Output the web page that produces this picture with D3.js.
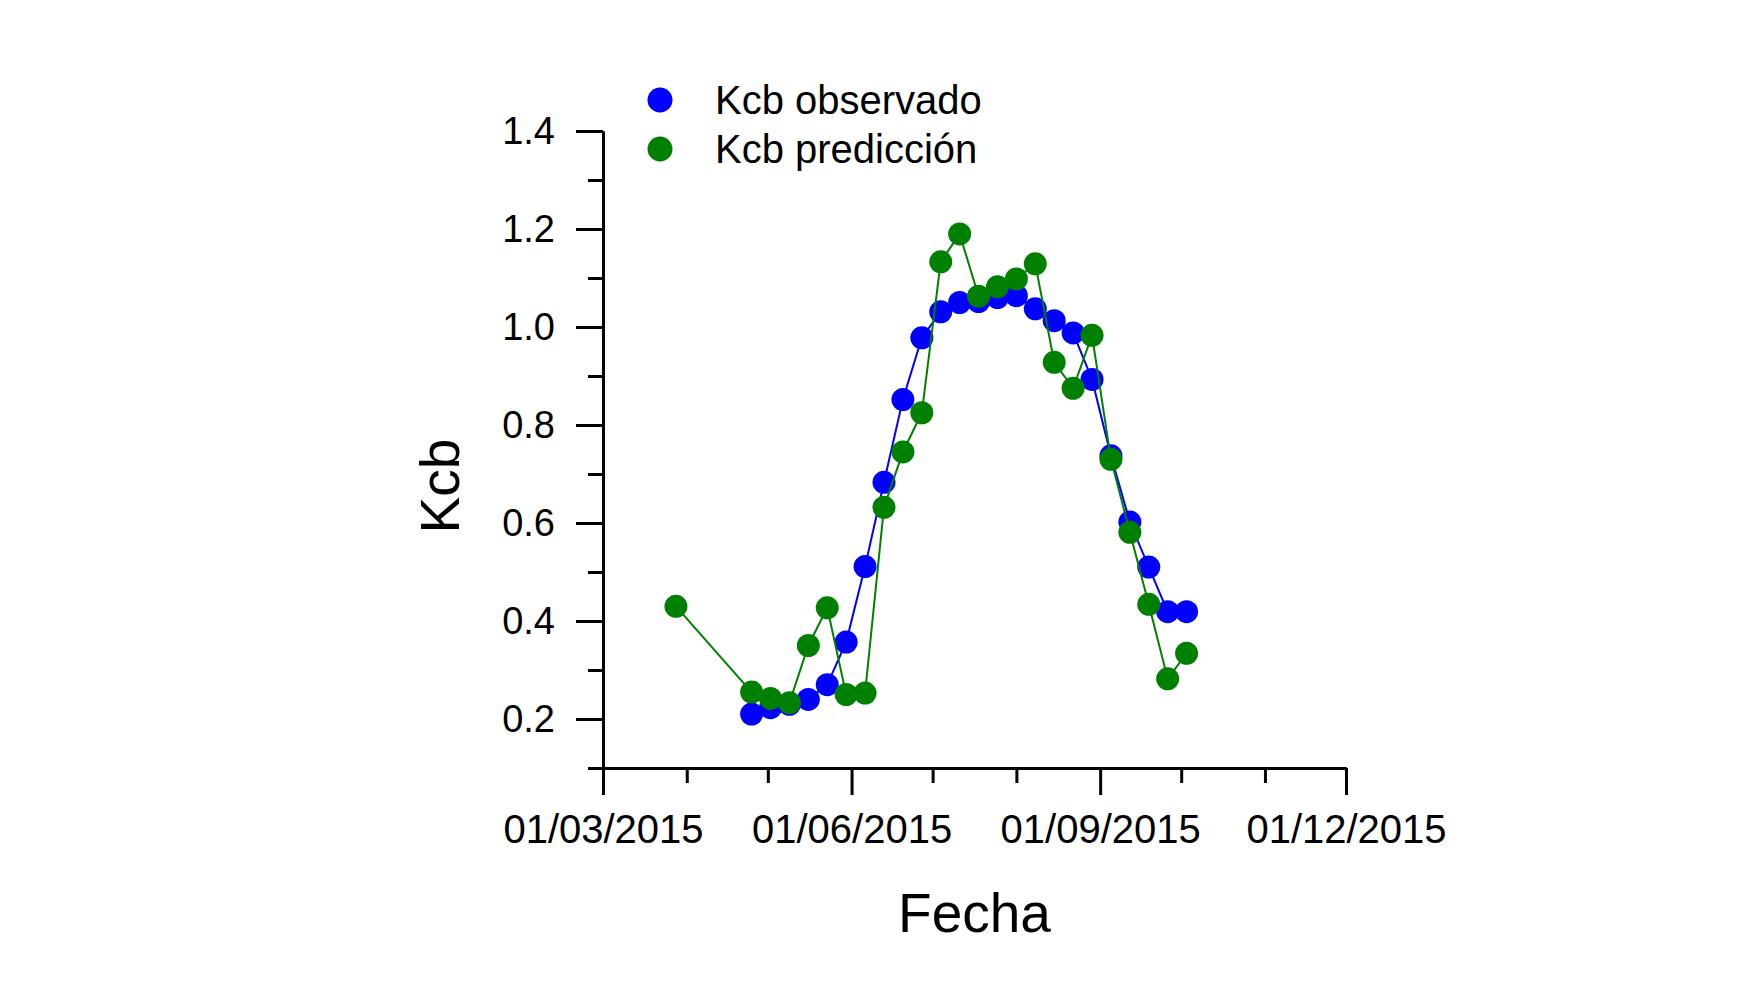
<!DOCTYPE html>
<html>
<head>
<meta charset="utf-8">
<script src="https://cdn.jsdelivr.net/npm/d3@7"></script>
<style>
  body { margin: 0; background: #fff; }
  text { font-family: "Liberation Sans", Arial, sans-serif; }
</style>
</head>
<body>
<div id="chart"></div>
<script>
// weekly sampling dates
const obsDates = ["2015-04-25","2015-05-02","2015-05-09","2015-05-16","2015-05-23","2015-05-30",
  "2015-06-06","2015-06-13","2015-06-20","2015-06-27","2015-07-04","2015-07-11","2015-07-18",
  "2015-07-25","2015-08-01","2015-08-08","2015-08-15","2015-08-22","2015-08-29","2015-09-05",
  "2015-09-12","2015-09-19","2015-09-26","2015-10-03"];
const obsValues = [0.21,0.223,0.23,0.24,0.27,0.357,0.511,0.683,0.852,0.978,1.031,1.05,1.052,
  1.06,1.064,1.037,1.013,0.988,0.893,0.737,0.602,0.51,0.419,0.419];

const predDates = ["2015-03-28"].concat(obsDates);
const predValues = [0.43,0.255,0.242,0.233,0.35,0.427,0.25,0.253,0.632,0.745,0.825,1.133,1.19,
  1.063,1.082,1.098,1.129,0.928,0.875,0.983,0.73,0.581,0.434,0.282,0.334];

const xMajorTicks = ["2015-03-01","2015-06-01","2015-09-01","2015-12-01"];
const xMinorTicks = ["2015-04-01","2015-05-01","2015-07-01","2015-08-01","2015-10-01","2015-11-01"];
const yMajorTicks = [0.2,0.4,0.6,0.8,1.0,1.2,1.4];
const yMinorTicks = [0.1,0.3,0.5,0.7,0.9,1.1,1.3];

const seriesNames = ["Kcb observado","Kcb predicción"];
const seriesColors = ["#0000ff","#008000"];

const W = 1750, H = 1000;
const LEFT = 603, RIGHT = 1346, TOP = 131, BOTTOM = 768;

const parse = d3.timeParse("%Y-%m-%d");

const svg = d3.select("#chart").append("svg")
  .attr("width", W).attr("height", H);

const x = d3.scaleTime()
  .domain([parse("2015-03-01"), parse("2015-12-01")])
  .range([LEFT, RIGHT]);
const y = d3.scaleLinear()
  .domain([0.1, 1.4])
  .range([BOTTOM, TOP]);

function styleAxis(g, size) {
  g.select(".domain").attr("stroke", "#000").attr("stroke-width", 3);
  g.selectAll(".tick line").attr("stroke", "#000").attr("stroke-width", 3);
  g.selectAll(".tick text").attr("fill", "#000").style("font-size", size + "px")
    .style("font-family", '"Liberation Sans", Arial, sans-serif');
}

// minor ticks first
svg.append("g")
  .attr("transform", `translate(0,${BOTTOM})`)
  .call(d3.axisBottom(x).tickValues(xMinorTicks.map(parse)).tickSize(15).tickSizeOuter(0).tickFormat(""))
  .call(styleAxis, 40);
svg.append("g")
  .attr("transform", `translate(${LEFT},0)`)
  .call(d3.axisLeft(y).tickValues(yMinorTicks).tickSize(15).tickSizeOuter(0).tickFormat(""))
  .call(styleAxis, 38);

svg.append("g")
  .attr("transform", `translate(0,${BOTTOM})`)
  .call(d3.axisBottom(x).tickValues(xMajorTicks.map(parse)).tickSize(27).tickSizeOuter(0)
    .tickPadding(20).tickFormat(d3.timeFormat("%d/%m/%Y")))
  .call(styleAxis, 40);
svg.append("g")
  .attr("transform", `translate(${LEFT},0)`)
  .call(d3.axisLeft(y).tickValues(yMajorTicks).tickSize(27).tickSizeOuter(0)
    .tickPadding(21).tickFormat(d3.format(".1f")))
  .call(styleAxis, 38);

// axis titles
svg.append("text")
  .attr("x", (LEFT + RIGHT) / 2)
  .attr("y", 932)
  .attr("text-anchor", "middle")
  .style("font-size", "55px")
  .text("Fecha");
svg.append("text")
  .attr("transform", "translate(459,486) rotate(-90)")
  .attr("text-anchor", "middle")
  .style("font-size", "55px")
  .text("Kcb");

// series
const series = [
  {name: seriesNames[0], color: seriesColors[0], data: obsDates.map((d, i) => ({date: parse(d), v: obsValues[i]}))},
  {name: seriesNames[1], color: seriesColors[1], data: predDates.map((d, i) => ({date: parse(d), v: predValues[i]}))}
];

const line = d3.line().x(d => x(d.date)).y(d => y(d.v));

series.forEach(s => {
  const g = svg.append("g");
  g.append("path")
    .datum(s.data)
    .attr("fill", "none")
    .attr("stroke", s.color)
    .attr("stroke-width", 2)
    .attr("d", line);
  g.selectAll("circle").data(s.data).enter().append("circle")
    .attr("cx", d => x(d.date))
    .attr("cy", d => y(d.v))
    .attr("r", 11.5)
    .attr("fill", s.color);
});

// legend
const legend = svg.append("g");
series.forEach((s, i) => {
  legend.append("circle")
    .attr("cx", 660).attr("cy", 100 + i * 49)
    .attr("r", 12.5).attr("fill", s.color);
  legend.append("text")
    .attr("x", 715).attr("y", 100 + i * 49)
    .attr("dy", "0.35em")
    .style("font-size", "40px")
    .text(s.name);
});
</script>
</body>
</html>
